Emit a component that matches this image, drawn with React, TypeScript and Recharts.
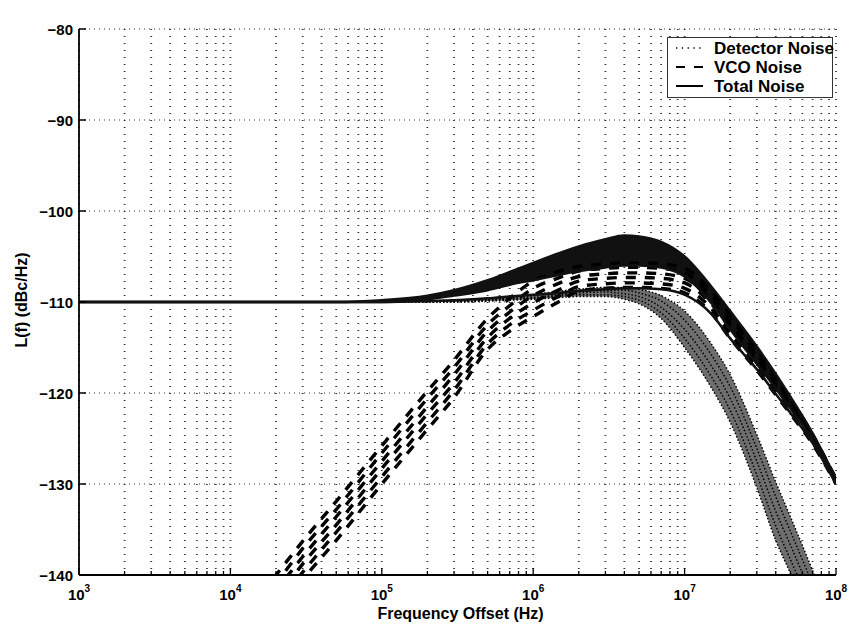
import React from 'react';
import { ComposedChart, Line, Area, XAxis, YAxis, CartesianGrid, Legend } from 'recharts';

const FONT = '"Liberation Sans", Arial, Helvetica, sans-serif';

// Frequency offsets (Hz)
const FREQ = [1e3, 1e4, 2e4, 3e4, 5e4, 1e5, 2e5, 3e5, 5e5, 7e5, 1e6, 1.5e6, 2e6, 3e6, 4e6, 5e6, 7e6, 1e7, 1.5e7, 2e7, 3e7, 4e7, 5e7, 7e7, 1e8];

// Total noise family (dBc/Hz)
const TOTAL_UPPER = [-110, -110, -110, -110, -110, -109.8, -109.3, -108.7, -107.6, -106.7, -105.7, -104.6, -103.9, -103.1, -102.7, -102.8, -103.4, -105.0, -108.3, -111.0, -114.9, -117.9, -120.4, -124.4, -129.4];
const TOTAL_LOWER = [-110, -110, -110, -110, -110, -110, -109.7, -109.3, -108.7, -108.1, -107.6, -107.0, -106.6, -106.2, -106.0, -106.0, -106.2, -107.2, -110.1, -113.0, -116.8, -119.5, -121.7, -125.1, -129.9];
const TOTAL_MIN = [-110, -110, -110, -110, -110, -110, -109.9, -109.8, -109.6, -109.4, -109.2, -109.0, -108.8, -108.6, -108.5, -108.5, -108.6, -109.2, -111.3, -114.0, -117.4, -120.1, -122.2, -125.5, -130.0];

// VCO noise family (dBc/Hz)
const VCO_0 = [-166, -146, -140, -136.3, -131.9, -125.8, -119.8, -116.4, -111.8, -109.6, -107.7, -106.6, -106.1, -105.8, -105.7, -105.7, -105.8, -106.3, -108.8, -111.3, -115.2, -118.2, -120.6, -124.6, -129.4];
const VCO_1 = [-166.8, -146.8, -140.9, -137.1, -132.8, -126.6, -120.6, -117.2, -112.5, -110.4, -108.5, -107.3, -106.6, -106.3, -106.2, -106.2, -106.3, -106.8, -109.3, -111.8, -115.7, -118.6, -120.9, -124.8, -129.5];
const VCO_2 = [-167.6, -147.6, -141.7, -138.0, -133.6, -127.5, -121.5, -118.0, -113.2, -111.1, -109.3, -107.9, -107.2, -106.9, -106.8, -106.8, -106.9, -107.4, -109.8, -112.4, -116.1, -119.0, -121.3, -125.0, -129.6];
const VCO_3 = [-168.4, -148.4, -142.6, -138.8, -134.5, -128.3, -122.3, -118.9, -113.9, -111.8, -110.1, -108.6, -107.7, -107.4, -107.3, -107.3, -107.4, -107.9, -110.2, -112.9, -116.6, -119.4, -121.6, -125.2, -129.8];
const VCO_4 = [-169.2, -149.2, -143.4, -139.7, -135.3, -129.2, -123.2, -119.7, -114.6, -112.5, -110.9, -109.3, -108.3, -108.0, -107.9, -107.9, -108.0, -108.5, -110.7, -113.5, -117.0, -119.8, -122.0, -125.4, -129.9];
const VCO_5 = [-170, -150, -144.3, -140.5, -136.2, -130.0, -124.0, -120.5, -115.2, -113.2, -111.6, -109.9, -108.8, -108.5, -108.4, -108.4, -108.5, -109.0, -111.2, -114.0, -117.5, -120.2, -122.3, -125.6, -130.0];

// Detector noise family (dBc/Hz)
const DET_0 = [-110, -110, -110, -110, -110, -110, -109.9, -109.8, -109.6, -109.4, -109.2, -108.8, -108.6, -108.4, -108.4, -108.6, -109.3, -111.0, -114.6, -118.0, -124.6, -129.8, -133.6, -139.5, -146];
const DET_1 = [-110, -110, -110, -110, -110, -110, -109.9, -109.9, -109.7, -109.5, -109.3, -109.0, -108.8, -108.7, -108.7, -109.0, -109.9, -112.0, -115.8, -119.3, -126.1, -131.4, -135.2, -141.0, -147.5];
const DET_2 = [-110, -110, -110, -110, -110, -110, -110, -109.9, -109.8, -109.6, -109.5, -109.2, -109.0, -108.9, -109.1, -109.4, -110.6, -113.0, -117.0, -120.6, -127.5, -133.0, -136.7, -142.5, -149.0];
const DET_3 = [-110, -110, -110, -110, -110, -110, -110, -110, -109.8, -109.7, -109.6, -109.3, -109.2, -109.2, -109.4, -109.8, -111.2, -114.0, -118.2, -121.9, -129.0, -134.6, -138.3, -144.0, -150.5];
const DET_4 = [-110, -110, -110, -110, -110, -110, -110, -110, -109.9, -109.8, -109.7, -109.5, -109.4, -109.4, -109.7, -110.2, -111.8, -115.0, -119.4, -123.2, -130.4, -136.2, -139.8, -145.5, -152];

// Axes
const DECADES = [1e3, 1e4, 1e5, 1e6, 1e7, 1e8];
const X_EXP = ['3', '4', '5', '6', '7', '8'];
const MINOR_MULT = [1, 2, 3, 4, 5, 6, 7, 8, 9];
const X_TICKS = DECADES.flatMap((d, i) => (i < DECADES.length - 1 ? MINOR_MULT.map((m) => m * d) : [d]));
const Y_TICKS = [-140, -130, -120, -110, -100, -90, -80];
const Y_LABELS = ['\u2212140', '\u2212130', '\u2212120', '\u2212110', '\u2212100', '\u221290', '\u221280'];

const TITLE = 'Output Phase Noise of BBPLL';
const X_TITLE = 'Frequency Offset (Hz)';
const Y_TITLE = 'L(f) (dBc/Hz)';
const LEGEND = ['Detector Noise', 'VCO Noise', 'Total Noise'];

const VCO_SERIES = [VCO_0, VCO_1, VCO_2, VCO_3, VCO_4, VCO_5];
const DET_SERIES = [DET_0, DET_1, DET_2, DET_3, DET_4];

const data = FREQ.map((f, i) => {
  const row: any = {
    f,
    tBand: [TOTAL_LOWER[i], TOTAL_UPPER[i]],
    tHi: TOTAL_UPPER[i],
    tLo: TOTAL_LOWER[i],
    tMin: TOTAL_MIN[i],
    dBand: [DET_4[i], DET_0[i]],
  };
  VCO_SERIES.forEach((s, k) => (row['v' + k] = s[i]));
  DET_SERIES.forEach((s, k) => (row['d' + k] = s[i]));
  return row;
});

const isMajor = (v: number) => DECADES.indexOf(v);

const XTickBottom = (props: any) => {
  const { x, y, payload } = props;
  const idx = isMajor(payload.value);
  return (
    <g>
      <line x1={x} x2={x} y1={y} y2={y - (idx >= 0 ? 7 : 4)} stroke="#000" strokeWidth={1.3} />
      {idx >= 0 && (
        <text x={x} y={y + 25} textAnchor="middle" fontFamily={FONT} fontWeight="bold" fontSize={15} fill="#000">
          10
          <tspan dy={-8} fontSize={10}>
            {X_EXP[idx]}
          </tspan>
        </text>
      )}
    </g>
  );
};

const XTickTop = (props: any) => {
  const { x, y, payload } = props;
  const idx = isMajor(payload.value);
  return <line x1={x} x2={x} y1={y} y2={y + (idx >= 0 ? 7 : 4)} stroke="#000" strokeWidth={1.3} />;
};

const YTickLeft = (props: any) => {
  const { x, y, payload } = props;
  const idx = Y_TICKS.indexOf(payload.value);
  return (
    <g>
      <line x1={x} x2={x + 7} y1={y} y2={y} stroke="#000" strokeWidth={1.5} />
      <text x={x - 6} y={y + 5.5} textAnchor="end" fontFamily={FONT} fontWeight="bold" fontSize={15} fill="#000">
        {Y_LABELS[idx]}
      </text>
    </g>
  );
};

const YTickRight = (props: any) => {
  const { x, y } = props;
  return <line x1={x} x2={x - 7} y1={y} y2={y} stroke="#000" strokeWidth={1.5} />;
};

const LegendBox = () => (
  <svg width={166} height={61} style={{ display: 'block', overflow: 'visible' }}>
    <rect x={0.5} y={0.5} width={165} height={60} fill="#fff" stroke="#333" strokeWidth={1} />
    <line x1={9} x2={36} y1={11} y2={11} stroke="#000" strokeWidth={1.3} strokeDasharray="1.3 4.5" />
    <line x1={9} x2={36} y1={30} y2={30} stroke="#000" strokeWidth={2} strokeDasharray="9 9" />
    <line x1={9} x2={36} y1={49} y2={49} stroke="#000" strokeWidth={2} />
    {LEGEND.map((t, i) => (
      <text key={t} x={47} y={11 + i * 19 + 6} fontFamily={FONT} fontWeight="bold" fontSize={17} fill="#000">
        {t}
      </text>
    ))}
  </svg>
);

export default function App() {
  return (
    <div style={{ position: 'absolute', left: 0, top: 0, width: 852, height: 628, background: '#fff' }}>
      <ComposedChart width={852} height={628} data={data} margin={{ top: 29, right: 16, bottom: 0, left: 0 }}>
        <CartesianGrid horizontal={false} stroke="#333" strokeWidth={1.8} strokeDasharray="1 6" />
        <CartesianGrid vertical={false} stroke="#333" strokeWidth={1} strokeDasharray="1 4" />
        <XAxis
          dataKey="f"
          type="number"
          scale="log"
          domain={[1e3, 1e8]}
          ticks={X_TICKS}
          interval={0}
          allowDataOverflow
          height={53}
          tickSize={0}
          tickMargin={0}
          tickLine={false}
          axisLine={{ stroke: '#000', strokeWidth: 1.8 }}
          tick={(p: any) => <XTickBottom {...p} />}
          label={{
            content: (p: any) => {
              const vb = p.viewBox;
              return (
                <text x={vb.x + vb.width / 2 + 3} y={vb.y + 44} textAnchor="middle" fontFamily={FONT} fontWeight="bold" fontSize={16} fill="#000">
                  {X_TITLE}
                </text>
              );
            },
          }}
        />
        <XAxis
          xAxisId="top"
          orientation="top"
          dataKey="f"
          type="number"
          scale="log"
          domain={[1e3, 1e8]}
          ticks={X_TICKS}
          interval={0}
          allowDataOverflow
          height={0}
          tickSize={0}
          tickMargin={0}
          tickLine={false}
          axisLine={{ stroke: '#000', strokeWidth: 1.8 }}
          tick={(p: any) => <XTickTop {...p} />}
          label={{
            content: (p: any) => {
              const vb = p.viewBox;
              return (
                <text x={vb.x + vb.width / 2} y={vb.y - 12} textAnchor="middle" fontFamily={FONT} fontWeight="bold" fontSize={15} fill="#000">
                  {TITLE}
                </text>
              );
            },
          }}
        />
        <YAxis
          type="number"
          domain={[-140, -80]}
          ticks={Y_TICKS}
          interval={0}
          allowDataOverflow
          width={79}
          tickSize={0}
          tickMargin={0}
          tickLine={false}
          axisLine={{ stroke: '#000', strokeWidth: 1.8 }}
          tick={(p: any) => <YTickLeft {...p} />}
          label={{
            content: (p: any) => {
              const vb = p.viewBox;
              const cx = 27;
              const cy = vb.y + vb.height / 2 - 2;
              return (
                <text x={cx} y={cy} transform={`rotate(-90 ${cx} ${cy})`} textAnchor="middle" fontFamily={FONT} fontWeight="bold" fontSize={16} fill="#000">
                  {Y_TITLE}
                </text>
              );
            },
          }}
        />
        <YAxis
          yAxisId="right"
          orientation="right"
          type="number"
          domain={[-140, -80]}
          ticks={Y_TICKS}
          interval={0}
          allowDataOverflow
          width={0}
          tickSize={0}
          tickMargin={0}
          tickLine={false}
          axisLine={{ stroke: '#000', strokeWidth: 1.8 }}
          tick={(p: any) => <YTickRight {...p} />}
        />

        <Area dataKey="dBand" type="monotone" fill="#6e6e6e" fillOpacity={1} stroke="none" isAnimationActive={false} />
        {DET_SERIES.map((_, k) => (
          <Line
            key={'d' + k}
            dataKey={'d' + k}
            type="monotone"
            stroke="#000"
            strokeWidth={1.5}
            strokeDasharray="1.5 2"
            dot={false}
            activeDot={false}
            isAnimationActive={false}
          />
        ))}
        {VCO_SERIES.map((_, k) => (
          <Line
            key={'v' + k}
            dataKey={'v' + k}
            type="monotone"
            stroke="#000"
            strokeWidth={3.4}
            strokeDasharray="10 9"
            dot={false}
            activeDot={false}
            isAnimationActive={false}
          />
        ))}
        <Area dataKey="tBand" type="monotone" fill="#111" fillOpacity={1} stroke="none" isAnimationActive={false} />
        <Line dataKey="tHi" type="monotone" stroke="#111" strokeWidth={2.5} dot={false} activeDot={false} isAnimationActive={false} />
        <Line dataKey="tLo" type="monotone" stroke="#111" strokeWidth={2.5} dot={false} activeDot={false} isAnimationActive={false} />
        <Line dataKey="tMin" type="monotone" stroke="#111" strokeWidth={2.5} dot={false} activeDot={false} isAnimationActive={false} />

        <Legend
          layout="vertical"
          verticalAlign="middle"
          align="center"
          wrapperStyle={{ position: 'absolute', left: 667, top: 37, width: 166, height: 61, margin: 0, padding: 0 }}
          content={() => <LegendBox />}
        />
      </ComposedChart>
    </div>
  );
}
